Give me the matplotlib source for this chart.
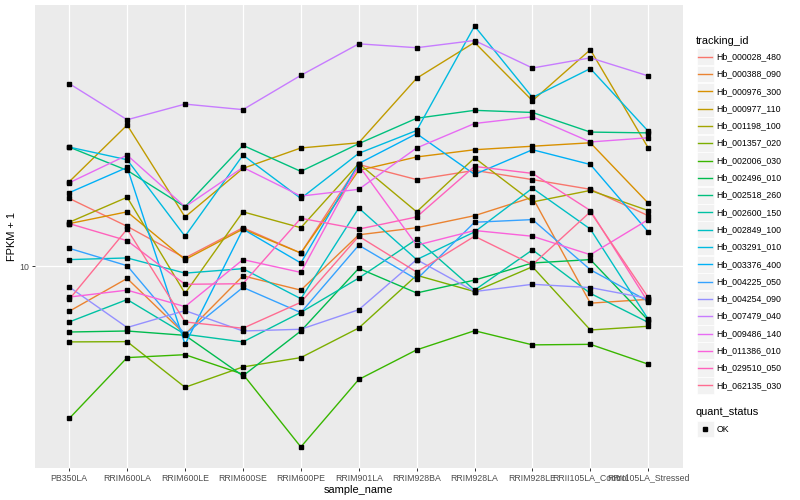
import matplotlib
matplotlib.use('Agg')
import numpy as np
import matplotlib.pyplot as plt
from matplotlib.lines import Line2D
from matplotlib.patches import Rectangle
from matplotlib.ticker import FixedLocator, NullLocator

plt.rcParams['font.family'] = ['Liberation Sans', 'DejaVu Sans']

samples = ['PB350LA', 'RRIM600LA', 'RRIM600LE', 'RRIM600SE', 'RRIM600PE', 'RRIM901LA',
           'RRIM928BA', 'RRIM928LA', 'RRIM928LE', 'RRII105LA_Control', 'RRII105LA_Stressed']

genes = ['Hb_000028_480', 'Hb_000388_090', 'Hb_000976_300', 'Hb_000977_110', 'Hb_001198_100',
         'Hb_001357_020', 'Hb_002006_030', 'Hb_002496_010', 'Hb_002518_260', 'Hb_002600_150',
         'Hb_002849_100', 'Hb_003291_010', 'Hb_003376_400', 'Hb_004225_050', 'Hb_004254_090',
         'Hb_007479_040', 'Hb_009486_140', 'Hb_011386_010', 'Hb_029510_050', 'Hb_062135_030']

# ggplot default hue palette for 20 levels
colors = ['#F8766D', '#EA8331', '#D89000', '#C09B00', '#A3A500', '#7CAE00', '#39B600',
          '#00BB4E', '#00BF7D', '#00C1A3', '#00BFC4', '#00BAE0', '#00B0F6', '#35A2FF',
          '#9590FF', '#C77CFF', '#E76BF3', '#FA62DB', '#FF62BC', '#FF6C91']

# FPKM + 1 per sample
hb_000028_480 = [14.8, 12.6, 10.5, 12.5, 10.8, 18.0, 16.5, 17.4, 16.5, 15.6, 13.4]
hb_000388_090 = [7.72, 9.33, 6.76, 9.47, 8.72, 12.0, 12.5, 13.4, 14.9, 8.09, 8.27]
hb_000976_300 = [12.8, 13.7, 10.4, 12.4, 10.8, 17.4, 18.8, 19.6, 20.0, 20.4, 14.4]
hb_000977_110 = [16.3, 22.6, 13.3, 17.6, 19.8, 20.4, 29.6, 36.4, 26.0, 34.9, 19.8]
hb_001198_100 = [12.9, 14.9, 8.56, 13.7, 12.5, 18.1, 13.7, 18.7, 14.5, 15.5, 13.8]
hb_001357_020 = [6.47, 6.48, 4.98, 5.60, 5.91, 7.01, 9.50, 8.65, 9.98, 6.93, 7.08]
hb_002006_030 = [4.16, 5.91, 6.01, 5.37, 3.53, 5.21, 6.18, 6.90, 6.36, 6.38, 5.69]
hb_002496_010 = [6.85, 6.89, 6.72, 5.32, 6.89, 9.89, 8.58, 9.24, 10.2, 10.4, 7.33]
hb_002518_260 = [19.9, 17.4, 14.1, 20.1, 17.3, 20.3, 23.5, 24.6, 24.3, 21.7, 21.6]
hb_002600_150 = [7.26, 8.26, 6.76, 6.47, 7.67, 9.35, 11.7, 8.72, 11.0, 8.56, 7.24]
hb_002849_100 = [10.4, 10.5, 9.62, 9.87, 8.30, 14.0, 10.4, 12.2, 15.7, 12.4, 7.37]
hb_003291_010 = [19.9, 18.5, 11.9, 19.0, 14.8, 19.2, 21.9, 40.0, 26.5, 31.3, 21.8]
hb_003376_400 = [15.3, 17.7, 6.38, 12.4, 10.2, 18.1, 21.5, 17.0, 19.6, 18.0, 12.2]
hb_004225_050 = [11.1, 10.04, 6.76, 8.86, 7.66, 11.3, 9.28, 12.9, 13.1, 9.81, 8.18]
hb_004254_090 = [8.88, 7.03, 7.75, 6.89, 6.96, 7.79, 10.4, 8.65, 9.02, 8.85, 8.31]
hb_007479_040 = [28.7, 23.3, 25.5, 24.7, 30.1, 36.1, 35.3, 36.8, 31.4, 33.3, 30.0]
hb_009486_140 = [16.2, 19.0, 14.1, 17.7, 15.0, 15.6, 19.8, 22.8, 23.7, 20.5, 21.0]
hb_011386_010 = [8.38, 8.72, 7.93, 10.4, 9.66, 17.9, 11.3, 12.3, 11.9, 10.7, 13.1]
hb_029510_050 = [12.8, 11.6, 9.02, 9.05, 13.2, 12.4, 13.3, 17.8, 17.1, 13.8, 8.13]
hb_062135_030 = [8.27, 12.4, 7.26, 7.00, 8.13, 11.9, 9.68, 11.9, 10.1, 13.7, 8.36]

series = [hb_000028_480, hb_000388_090, hb_000976_300, hb_000977_110, hb_001198_100,
          hb_001357_020, hb_002006_030, hb_002496_010, hb_002518_260, hb_002600_150,
          hb_002849_100, hb_003291_010, hb_003376_400, hb_004225_050, hb_004254_090,
          hb_007479_040, hb_009486_140, hb_011386_010, hb_029510_050, hb_062135_030]

W, H = 800, 500
fig = plt.figure(figsize=(8, 5), dpi=100)

def fx(px):
    return px / W

def fy(py):
    return 1 - py / H

# panel in pixels
left, right, top, bottom = 34.5, 683, 5, 468
ax = fig.add_axes([fx(left), fy(bottom), fx(right - left), (bottom - top) / H])
ax.set_facecolor('#EBEBEB')
for s in ax.spines.values():
    s.set_visible(False)

x = np.arange(len(samples))
for vals, col in zip(series, colors):
    ax.plot(x, vals, color=col, lw=1.0, zorder=2)
for vals in series:
    ax.plot(x, vals, ls='none', marker='s', ms=2.3, color='black', zorder=3)

ax.set_yscale('log')
allv = np.log10(np.concatenate([np.array(v) for v in series]))
lo, hi = allv.min(), allv.max()
pad = (hi - lo) * 0.05
ax.set_ylim(10 ** (lo - pad), 10 ** (hi + pad))
ax.set_xlim(-0.6, len(samples) - 0.4)

ax.yaxis.set_major_locator(FixedLocator([10]))
ax.yaxis.set_minor_locator(NullLocator())
ax.set_yticklabels(['10'])
ax.set_xticks(x)
ax.set_xticklabels(samples)
ax.tick_params(axis='both', length=2.2, width=0.7, color='#333333',
               labelcolor='#4D4D4D', labelsize=6.3, pad=1.8)

ax.grid(True, which='major', color='white', lw=0.9)
ax.set_axisbelow(True)

fig.text(fx((left + right) / 2), fy(490), 'sample_name', ha='center', va='center',
         fontsize=7.9, color='black')
fig.text(fx(12), fy((top + bottom) / 2), 'FPKM + 1', ha='center', va='center',
         rotation=90, fontsize=7.9, color='black')

# legend: tracking_id
fig.text(fx(696), fy(40.5), 'tracking_id', ha='left', va='center', fontsize=7.9)
row0, dy = 56.7, 17.3
for i, (name, col) in enumerate(zip(genes, colors)):
    yc = row0 + i * dy
    fig.patches.append(Rectangle((fx(696.5), fy(yc + 8.4)), 17 / W, 16.8 / H,
                                 transform=fig.transFigure, facecolor='#F2F2F2',
                                 edgecolor='white', lw=0.5))
    fig.lines.append(Line2D([fx(698), fx(712)], [fy(yc), fy(yc)], color=col, lw=1.0,
                            transform=fig.transFigure))
    fig.text(fx(716.5), fy(yc), name, ha='left', va='center', fontsize=6.3)

# legend: quant_status
fig.text(fx(696), fy(412), 'quant_status', ha='left', va='center', fontsize=7.9)
yc = 429
fig.patches.append(Rectangle((fx(696.5), fy(yc + 8.4)), 17 / W, 16.8 / H,
                             transform=fig.transFigure, facecolor='#F2F2F2',
                             edgecolor='white', lw=0.5))
fig.lines.append(Line2D([fx(705)], [fy(yc)], ls='none', marker='s', ms=2.3,
                        color='black', transform=fig.transFigure))
fig.text(fx(716.5), fy(yc), 'OK', ha='left', va='center', fontsize=6.3)

fig.savefig('out.png', dpi=100)
